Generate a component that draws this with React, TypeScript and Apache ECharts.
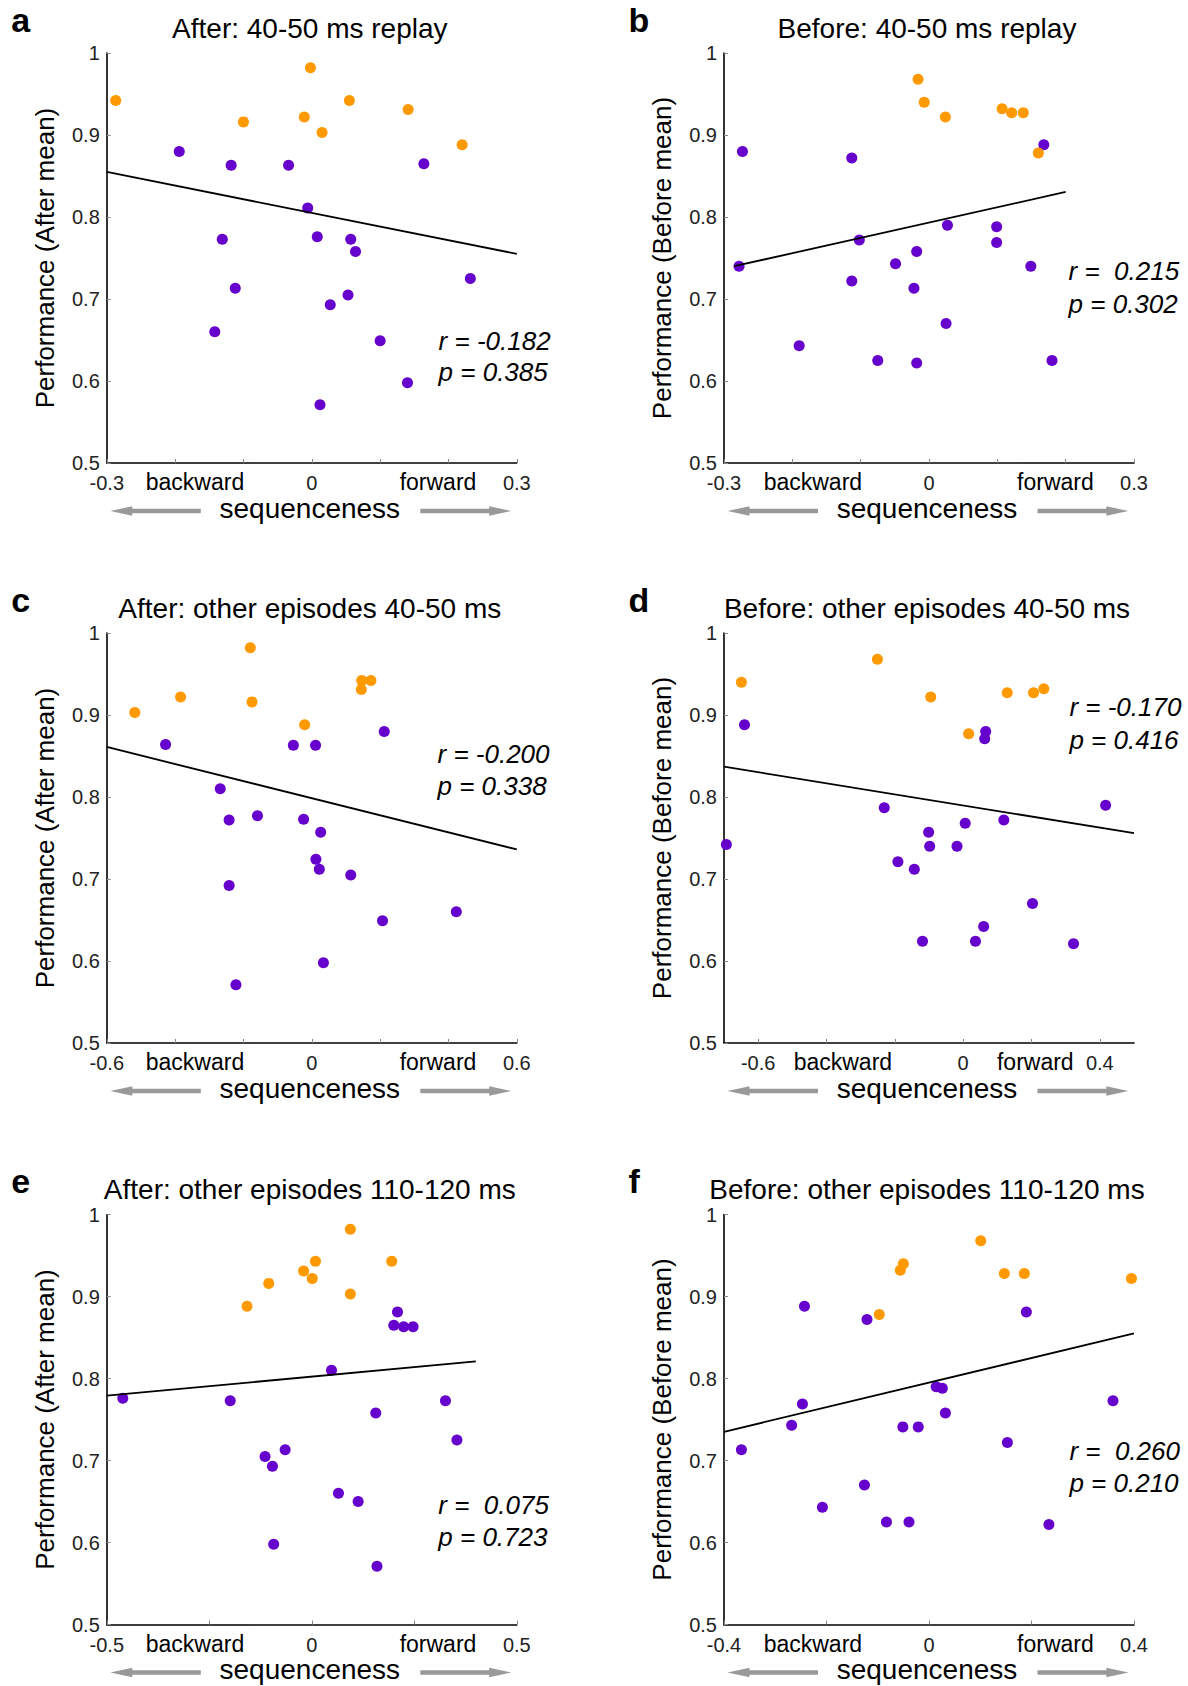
import React, { useEffect, useRef } from "react";
import * as echarts from "echarts";

// ---------- data ----------
const yTicks = [0.5, 0.6, 0.7, 0.8, 0.9, 1];

const aTitle = "After: 40-50 ms replay";
const aRange = [-0.3, 0.3];
const aTicks = [-0.3, -0.2, -0.1, 0, 0.1, 0.2, 0.3];
const aLabels = [-0.3, 0, 0.3];
const aHigh = [[-0.287, 0.942], [-0.002, 0.982], [-0.1, 0.916], [-0.011, 0.922], [0.015, 0.903], [0.055, 0.942], [0.141, 0.931], [0.22, 0.888]];
const aLow = [[-0.194, 0.88], [-0.118, 0.863], [-0.034, 0.863], [0.164, 0.865], [-0.006, 0.811], [0.008, 0.776], [-0.131, 0.773], [0.057, 0.773], [0.064, 0.758], [0.232, 0.725], [-0.112, 0.713], [0.053, 0.705], [0.027, 0.693], [-0.142, 0.66], [0.1, 0.649], [0.14, 0.598], [0.012, 0.571]];
const aFit = [[-0.3, 0.855], [0.3, 0.755]];
const aStats = ["r = -0.182", "p = 0.385"];

const bTitle = "Before: 40-50 ms replay";
const bRange = [-0.3, 0.3];
const bTicks = [-0.3, -0.2, -0.1, 0, 0.1, 0.2, 0.3];
const bLabels = [-0.3, 0, 0.3];
const bHigh = [[-0.016, 0.968], [-0.007, 0.94], [0.024, 0.922], [0.107, 0.932], [0.121, 0.927], [0.138, 0.927], [0.16, 0.878]];
const bLow = [[0.168, 0.888], [-0.273, 0.88], [-0.113, 0.872], [0.027, 0.79], [0.099, 0.788], [0.099, 0.769], [-0.102, 0.772], [-0.018, 0.758], [-0.049, 0.743], [-0.278, 0.74], [0.149, 0.74], [-0.113, 0.722], [-0.022, 0.713], [0.025, 0.67], [-0.19, 0.643], [-0.075, 0.625], [-0.018, 0.622], [0.18, 0.625]];
const bFit = [[-0.285, 0.74], [0.2, 0.8305]];
const bStats = ["r =  0.215", "p = 0.302"];

const cTitle = "After: other episodes 40-50 ms";
const cRange = [-0.6, 0.6];
const cTicks = [-0.6, -0.4, -0.2, 0, 0.2, 0.4, 0.6];
const cLabels = [-0.6, 0, 0.6];
const cHigh = [[-0.518, 0.903], [-0.384, 0.922], [-0.18, 0.982], [-0.175, 0.916], [-0.021, 0.888], [0.146, 0.942], [0.173, 0.942], [0.145, 0.931]];
const cLow = [[0.212, 0.88], [-0.428, 0.864], [-0.054, 0.863], [0.011, 0.863], [-0.268, 0.81], [-0.242, 0.772], [-0.159, 0.777], [-0.024, 0.773], [0.026, 0.757], [0.012, 0.724], [0.022, 0.712], [0.114, 0.705], [-0.242, 0.692], [0.207, 0.649], [0.423, 0.66], [0.034, 0.598], [-0.222, 0.571]];
const cFit = [[-0.6, 0.861], [0.6, 0.736]];
const cStats = ["r = -0.200", "p = 0.338"];

const dTitle = "Before: other episodes 40-50 ms";
const dRange = [-0.7, 0.5];
const dTicks = [-0.6, -0.4, -0.2, 0, 0.2, 0.4];
const dLabels = [-0.6, 0, 0.4];
const dHigh = [[-0.649, 0.94], [-0.251, 0.968], [-0.095, 0.922], [0.016, 0.877], [0.129, 0.927], [0.206, 0.927], [0.236, 0.932]];
const dLow = [[-0.64, 0.888], [0.066, 0.88], [0.063, 0.871], [-0.231, 0.787], [0.417, 0.79], [0.006, 0.768], [0.119, 0.772], [-0.101, 0.757], [-0.098, 0.74], [-0.018, 0.74], [-0.693, 0.742], [-0.191, 0.721], [-0.143, 0.712], [0.203, 0.67], [0.06, 0.642], [-0.119, 0.624], [0.036, 0.624], [0.323, 0.621]];
const dFit = [[-0.7, 0.837], [0.5, 0.756]];
const dStats = ["r = -0.170", "p = 0.416"];

const eTitle = "After: other episodes 110-120 ms";
const eRange = [-0.5, 0.5];
const eTicks = [-0.5, -0.25, 0, 0.25, 0.5];
const eLabels = [-0.5, 0, 0.5];
const eHigh = [[0.094, 0.982], [0.009, 0.943], [0.195, 0.943], [-0.02, 0.931], [0.001, 0.922], [-0.105, 0.916], [0.094, 0.903], [-0.158, 0.888]];
const eLow = [[0.209, 0.881], [0.2, 0.865], [0.224, 0.863], [0.247, 0.863], [0.048, 0.81], [-0.461, 0.776], [-0.199, 0.773], [0.326, 0.773], [0.156, 0.758], [0.354, 0.725], [-0.065, 0.713], [-0.114, 0.705], [-0.096, 0.693], [0.065, 0.66], [0.113, 0.65], [-0.093, 0.598], [0.159, 0.571]];
const eFit = [[-0.5, 0.779], [0.4, 0.821]];
const eStats = ["r =  0.075", "p = 0.723"];

const fTitle = "Before: other episodes 110-120 ms";
const fRange = [-0.4, 0.4];
const fTicks = [-0.4, -0.2, 0, 0.2, 0.4];
const fLabels = [-0.4, 0, 0.4];
const fHigh = [[0.101, 0.968], [-0.05, 0.94], [-0.056, 0.932], [0.147, 0.928], [0.186, 0.928], [0.395, 0.922], [-0.097, 0.878]];
const fLow = [[-0.243, 0.888], [-0.121, 0.872], [0.19, 0.881], [0.014, 0.79], [0.026, 0.788], [-0.247, 0.769], [0.359, 0.773], [0.032, 0.758], [-0.268, 0.743], [-0.051, 0.741], [-0.021, 0.741], [0.153, 0.722], [-0.366, 0.713], [-0.126, 0.67], [-0.208, 0.643], [-0.083, 0.625], [-0.039, 0.625], [0.234, 0.622]];
const fFit = [[-0.4, 0.735], [0.4, 0.855]];
const fStats = ["r =  0.260", "p = 0.210"];

const afterName = "Performance (After mean)";
const beforeName = "Performance (Before mean)";

const panels = [
  { letter: "a", title: aTitle, yName: afterName, range: aRange, ticks: aTicks, labels: aLabels, high: aHigh, low: aLow, fit: aFit, stats: aStats },
  { letter: "b", title: bTitle, yName: beforeName, range: bRange, ticks: bTicks, labels: bLabels, high: bHigh, low: bLow, fit: bFit, stats: bStats },
  { letter: "c", title: cTitle, yName: afterName, range: cRange, ticks: cTicks, labels: cLabels, high: cHigh, low: cLow, fit: cFit, stats: cStats },
  { letter: "d", title: dTitle, yName: beforeName, range: dRange, ticks: dTicks, labels: dLabels, high: dHigh, low: dLow, fit: dFit, stats: dStats },
  { letter: "e", title: eTitle, yName: afterName, range: eRange, ticks: eTicks, labels: eLabels, high: eHigh, low: eLow, fit: eFit, stats: eStats },
  { letter: "f", title: fTitle, yName: beforeName, range: fRange, ticks: fTicks, labels: fLabels, high: fHigh, low: fLow, fit: fFit, stats: fStats },
];

// ---------- layout / style ----------
const FONT = "'Liberation Sans', Arial, Helvetica, sans-serif";
const SIZE = 410;
const layout = [
  { left: 106.8, top: 53 },
  { left: 724, top: 53 },
  { left: 106.8, top: 633 },
  { left: 724, top: 633 },
  { left: 106.8, top: 1214.5 },
  { left: 724, top: 1214.5 },
];
// [dx, r dy, p dy] relative to grid left/top
const statPos = [
  [331.8, 287.5, 319],
  [344.6, 218, 251],
  [330.7, 121, 153],
  [345.4, 74, 106.6],
  [331.5, 290, 322.5],
  [345.4, 236.5, 268.8],
];
// backward / forward centre offsets from grid left
const wordPos = [
  [88.2, 331.2],
  [88.9, 331.4],
  [88.2, 331.2],
  [118.9, 311.3],
  [88.2, 331.2],
  [88.9, 331.4],
];
const ORANGE = "#FF9900";
const PURPLE = "#6600CC";
const ARROW = "#999999";

const fmt = (v: number) => (Math.abs(v) < 1e-9 ? "0" : String(Math.round(v * 100) / 100));

function buildOption() {
  const grid: any[] = [];
  const xAxis: any[] = [];
  const yAxis: any[] = [];
  const series: any[] = [];
  const graphic: any[] = [];

  panels.forEach((p, i) => {
    const L = layout[i];
    const right = L.left + SIZE;
    const bottom = L.top + SIZE;
    const cx = L.left + SIZE / 2;
    grid.push({ left: L.left, top: L.top, width: SIZE, height: SIZE });
    xAxis.push({
      gridIndex: i,
      type: "value",
      min: p.range[0],
      max: p.range[1],
      axisLine: { show: true, onZero: false, lineStyle: { color: "#000", width: 1.6 } },
      axisTick: { show: true, inside: true, length: 4, customValues: p.ticks, lineStyle: { color: "#888", width: 1 } },
      axisLabel: {
        show: true,
        customValues: p.labels,
        formatter: fmt,
        margin: 10,
        fontSize: 20,
        color: "#222",
        fontFamily: FONT,
        showMinLabel: true,
        showMaxLabel: true,
      },
      splitLine: { show: false },
    });
    yAxis.push({
      gridIndex: i,
      type: "value",
      min: 0.5,
      max: 1,
      interval: 0.1,
      axisLine: { show: true, onZero: false, lineStyle: { color: "#000", width: 1.6 } },
      axisTick: { show: true, inside: true, length: 4, customValues: yTicks, lineStyle: { color: "#888", width: 1 } },
      axisLabel: {
        show: true,
        customValues: yTicks,
        formatter: fmt,
        margin: 7,
        fontSize: 20,
        color: "#222",
        fontFamily: FONT,
        showMinLabel: true,
        showMaxLabel: true,
      },
      splitLine: { show: false },
    });
    series.push({
      type: "scatter",
      xAxisIndex: i,
      yAxisIndex: i,
      data: p.low,
      symbol: "circle",
      symbolSize: 11,
      itemStyle: { color: PURPLE, opacity: 1 },
      z: 2,
    });
    series.push({
      type: "scatter",
      xAxisIndex: i,
      yAxisIndex: i,
      data: p.high,
      symbol: "circle",
      symbolSize: 11,
      itemStyle: { color: ORANGE, opacity: 1 },
      z: 3,
    });
    series.push({
      type: "line",
      xAxisIndex: i,
      yAxisIndex: i,
      data: p.fit,
      symbol: "none",
      lineStyle: { color: "#000", width: 1.8 },
      z: 4,
    });

    // panel letter
    graphic.push({
      type: "text",
      x: L.left - 95.5,
      y: L.top - 33.5,
      style: { text: p.letter, font: `bold 34px ${FONT}`, fill: "#000", textAlign: "left", textVerticalAlign: "middle" },
    });
    // title
    graphic.push({
      type: "text",
      x: cx - 2,
      y: L.top - 25,
      style: { text: p.title, font: `28px ${FONT}`, fill: "#000", textAlign: "center", textVerticalAlign: "middle" },
    });
    // y axis name
    graphic.push({
      type: "text",
      x: L.left - 62,
      y: L.top + SIZE / 2,
      rotation: Math.PI / 2,
      style: { text: p.yName, font: `26px ${FONT}`, fill: "#000", textAlign: "center", textVerticalAlign: "middle" },
    });
    // backward / forward
    graphic.push({
      type: "text",
      x: L.left + wordPos[i][0],
      y: bottom + 19,
      style: { text: "backward", font: `23px ${FONT}`, fill: "#000", textAlign: "center", textVerticalAlign: "middle" },
    });
    graphic.push({
      type: "text",
      x: L.left + wordPos[i][1],
      y: bottom + 19,
      style: { text: "forward", font: `23px ${FONT}`, fill: "#000", textAlign: "center", textVerticalAlign: "middle" },
    });
    // x axis name
    graphic.push({
      type: "text",
      x: cx - 2,
      y: bottom + 45,
      style: { text: "sequenceness", font: `28px ${FONT}`, fill: "#000", textAlign: "center", textVerticalAlign: "middle" },
    });
    // arrows
    const ay = bottom + 48;
    const l0 = L.left + 3.5;
    graphic.push({
      type: "polygon",
      shape: {
        points: [
          [l0, ay], [l0 + 22, ay - 4.7], [l0 + 22, ay - 2.2], [L.left + 94, ay - 2.2],
          [L.left + 94, ay + 2.2], [l0 + 22, ay + 2.2], [l0 + 22, ay + 4.7],
        ],
      },
      style: { fill: ARROW },
    });
    const r0 = right - 5.6;
    graphic.push({
      type: "polygon",
      shape: {
        points: [
          [r0, ay], [r0 - 22, ay - 4.7], [r0 - 22, ay - 2.2], [right - 96.5, ay - 2.2],
          [right - 96.5, ay + 2.2], [r0 - 22, ay + 2.2], [r0 - 22, ay + 4.7],
        ],
      },
      style: { fill: ARROW },
    });
    // stats
    const sp = statPos[i];
    graphic.push({
      type: "text",
      x: L.left + sp[0],
      y: L.top + sp[1],
      style: { text: p.stats[0], font: `italic 26px ${FONT}`, fill: "#000", textAlign: "left", textVerticalAlign: "middle" },
    });
    graphic.push({
      type: "text",
      x: L.left + sp[0],
      y: L.top + sp[2],
      style: { text: p.stats[1], font: `italic 26px ${FONT}`, fill: "#000", textAlign: "left", textVerticalAlign: "middle" },
    });
  });

  return {
    animation: false,
    backgroundColor: "#fff",
    textStyle: { fontFamily: FONT },
    grid,
    xAxis,
    yAxis,
    series,
    graphic,
  };
}

export default function App() {
  const ref = useRef<HTMLDivElement>(null);
  useEffect(() => {
    if (!ref.current) return;
    const chart = echarts.init(ref.current, null, { renderer: "svg" });
    chart.setOption(buildOption() as any);
    return () => {
      chart.dispose();
    };
  }, []);
  return (
    <div
      ref={ref}
      style={{ position: "absolute", left: 0, top: 0, width: 1188, height: 1686, background: "#fff" }}
    />
  );
}
